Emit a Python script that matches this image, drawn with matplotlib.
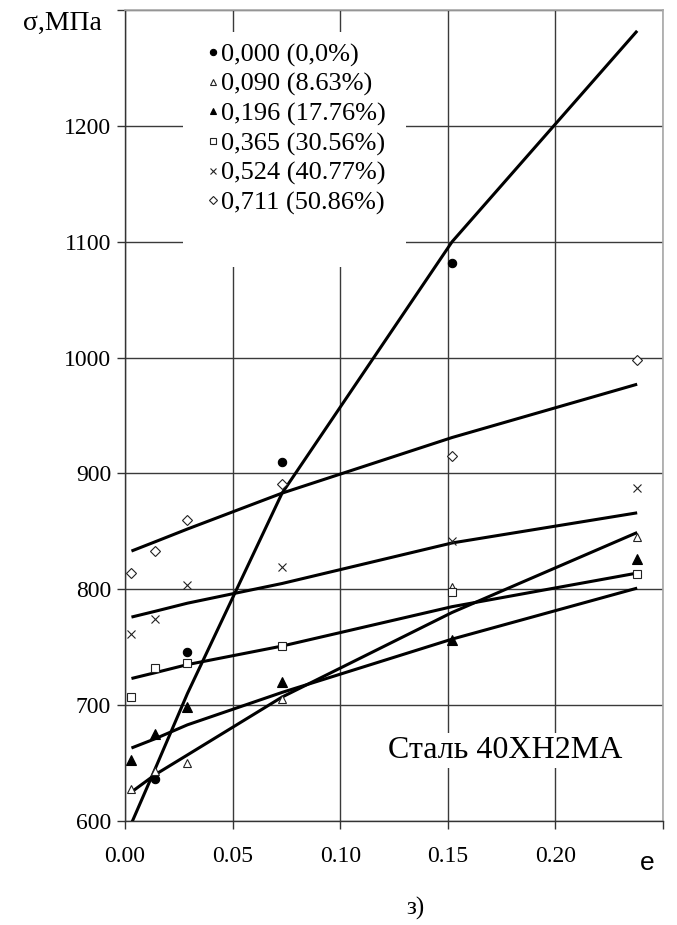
import matplotlib
matplotlib.use('Agg')
import matplotlib.pyplot as plt
import numpy as np
from matplotlib.patches import Rectangle

# ---- data -------------------------------------------------------------
strain = [0.003, 0.014, 0.029, 0.073, 0.152, 0.238]

series_labels = ['0,000 (0,0%)', '0,090 (8.63%)', '0,196 (17.76%)',
                 '0,365 (30.56%)', '0,524 (40.77%)', '0,711 (50.86%)']

# experimental points (σ, MPa)
exp_000 = [np.nan, 636, 746, 910, 1082, np.nan]
exp_090 = [628, 643, 650, 705, 802, 845]
exp_196 = [653, 675, 698, 720, 756, 826]
exp_365 = [707, 732, 736, 751, 798, 813]
exp_524 = [761, 774, 804, 819, 842, 887]
exp_711 = [814, 833, 860, 891, 915, 998]

# model curves (σ, MPa)
fit_000 = [598, 645, 710, 883, 1100, 1282]
fit_090 = [625, 640, 657, 707, 780, 849]
fit_196 = [663, 671, 683, 711, 757, 801]
fit_365 = [723, 728, 735, 751, 785, 814]
fit_524 = [776, 781, 788, 805, 840, 866]
fit_711 = [833, 841, 852, 883, 931, 977]

x_ticks = [0.00, 0.05, 0.10, 0.15, 0.20, 0.25]
x_tick_labels = ['0.00', '0.05', '0.10', '0.15', '0.20', '']
y_ticks = [600, 700, 800, 900, 1000, 1100, 1200, 1300]
y_tick_labels = ['600', '700', '800', '900', '1000', '1100', '1200', '']

# ---- style ------------------------------------------------------------
SERIF = ['Liberation Serif', 'DejaVu Serif']
plt.rcParams['font.family'] = SERIF

exps = [exp_000, exp_090, exp_196, exp_365, exp_524, exp_711]
fits = [fit_000, fit_090, fit_196, fit_365, fit_524, fit_711]
mstyles = [
    dict(marker='o', ms=6.0, mfc='black', mec='black', mew=0.8),
    dict(marker='^', ms=6.0, mfc='white', mec='#222222', mew=0.8),
    dict(marker='^', ms=6.5, mfc='black', mec='black', mew=0.8),
    dict(marker='s', ms=5.5, mfc='white', mec='#222222', mew=0.8),
    dict(marker='x', ms=5.5, mfc='none', mec='#222222', mew=0.8),
    dict(marker='D', ms=5.0, mfc='white', mec='#222222', mew=0.8),
]

fig = plt.figure(figsize=(6.77, 9.25), dpi=100)
ax = fig.add_axes([125 / 677, 1 - 821 / 925, (663 - 125) / 677, (821 - 10) / 925])

ax.set_xlim(0, 0.25)
ax.set_ylim(600, 1300)
ax.set_xticks(x_ticks)
ax.set_xticklabels(x_tick_labels)
ax.set_yticks(y_ticks)
ax.set_yticklabels(y_tick_labels)
ax.tick_params(direction='out', length=6, width=1.0, color='#333333',
               labelsize=17, pad=4)
ax.tick_params(axis='x', pad=12)

ax.set_axisbelow(True)
ax.grid(True, color='#3a3a3a', linewidth=1.0)

for side in ['left', 'bottom']:
    ax.spines[side].set_color('#333333')
    ax.spines[side].set_linewidth(1.0)
for side in ['top', 'right']:
    ax.spines[side].set_color('#a8a8a8')
    ax.spines[side].set_linewidth(1.2)

# white area behind legend
ax.add_patch(Rectangle(((183 - 125) / 538, 1 - (267 - 10) / 811),
                       (406 - 183) / 538, (267 - 32) / 811,
                       transform=ax.transAxes, facecolor='white',
                       edgecolor='none', zorder=1))

for e, f, st, lab in zip(exps, fits, mstyles, series_labels):
    ax.plot(strain, f, color='black', lw=2.2, zorder=3, solid_capstyle='butt')
    ax.plot(strain, e, linestyle='none', zorder=4, label=lab, **st)

leg = ax.legend(loc='upper left', bbox_to_anchor=((206 - 125) / 538, 1 - (43 - 10) / 811),
                frameon=False, fontsize=19, handlelength=0.5, handletextpad=0.05,
                borderpad=0, labelspacing=0.215, markerscale=0.75,
                borderaxespad=0)

ax.text(0.1767, 661, 'Сталь 40ХН2МА', fontsize=23, ha='center', va='center',
        zorder=5, bbox=dict(facecolor='white', edgecolor='none', pad=2))

fig.text(102 / 677, 1 - 23 / 925, 'σ,МПа', fontsize=20, ha='right', va='center')
fig.text(647 / 677, 1 - 863 / 925, 'e', fontsize=19, ha='center', va='center',
         family=['Liberation Sans', 'DejaVu Sans'])
fig.text(415 / 677, 1 - 908 / 925, 'з)', fontsize=18, ha='center', va='center')

fig.savefig('out.png', dpi=100, facecolor='white')
